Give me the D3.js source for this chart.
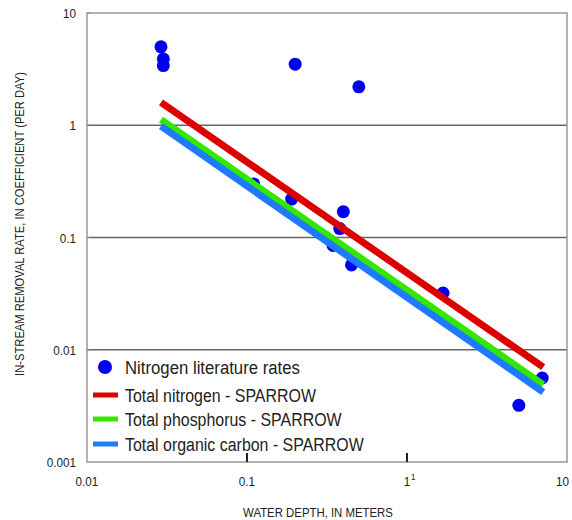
<!DOCTYPE html>
<html>
<head>
<meta charset="utf-8">
<script src="https://cdn.jsdelivr.net/npm/d3@7"></script>
<style>
  body { margin: 0; background: #fff; }
  text { font-family: "Liberation Sans", Arial, sans-serif; fill: #222; }
</style>
</head>
<body>
<svg id="chart" width="572" height="520"></svg>
<script>
// ---- data ----
const litDepths = [0.029, 0.030, 0.030, 0.20, 0.50, 0.11, 0.19, 0.40, 0.38, 0.345, 0.45, 1.68, 7.0, 5.0];
const litRates  = [5.0, 3.9, 3.4, 3.5, 2.2, 0.30, 0.22, 0.17, 0.12, 0.085, 0.057, 0.032, 0.0056, 0.0032];

const lineDepths = [0.029, 7.1];
const tnRates  = [1.6, 0.007];
const tpRates  = [1.12, 0.0049];
const tocRates = [0.98, 0.0042];

const xTicks = [0.01, 0.1, 1, 10];
const xTickLabels = ["0.01", "0.1", "1", "10"];
const yTicks = [0.001, 0.01, 0.1, 1, 10];
const yTickLabels = ["0.001", "0.01", "0.1", "1", "10"];
const gridValues = [0.01, 0.1, 1];

const legendLabels = ["Nitrogen literature rates", "Total nitrogen - SPARROW", "Total phosphorus - SPARROW", "Total organic carbon - SPARROW"];
const colors = { dot: "#0000ee", tn: "#dd0000", tp: "#33e800", toc: "#1e7bff" };

// ---- layout ----
const svg = d3.select("#chart");
const L = 87, R = 567, T = 13, B = 462;
const x = d3.scaleLog().domain([0.01, 10]).range([L, R]);
const y = d3.scaleLog().domain([0.001, 10]).range([B, T]);

// condensed-face emulation: squeeze natural width by a ratio
function condense(sel, fs, ratio) {
  sel.attr("font-size", fs).each(function () {
    const w = this.getComputedTextLength();
    d3.select(this).attr("textLength", w * ratio).attr("lengthAdjust", "spacingAndGlyphs");
  });
}

// gridlines
svg.append("g").selectAll("line").data(gridValues).join("line")
  .attr("x1", L).attr("x2", R)
  .attr("y1", d => y(d)).attr("y2", d => y(d))
  .attr("stroke", "#666").attr("stroke-width", 1.4);

// frame
svg.append("rect").attr("x", L).attr("y", T).attr("width", R - L).attr("height", B - T)
  .attr("fill", "none").attr("stroke", "#999").attr("stroke-width", 1.5);

// left small inner ticks
svg.append("g").selectAll("line").data(yTicks.slice(1)).join("line")
  .attr("x1", L).attr("x2", L + 3)
  .attr("y1", d => y(d)).attr("y2", d => y(d))
  .attr("stroke", "#888").attr("stroke-width", 1);

// bottom inner ticks
svg.append("g").selectAll("line").data([0.1, 1]).join("line")
  .attr("x1", d => x(d)).attr("x2", d => x(d))
  .attr("y1", B).attr("y2", B - 9)
  .attr("stroke", "#222").attr("stroke-width", 2);

// x tick labels
svg.append("g").selectAll("text").data(xTicks).join("text")
  .attr("x", d => d === 10 ? 569 : x(d)).attr("y", 486)
  .attr("text-anchor", d => d === 10 ? "end" : "middle")
  .text((d, i) => xTickLabels[i])
  .call(condense, 13, 0.9);
// stray superscript next to "1"
svg.append("text").attr("x", x(1) + 4).attr("y", 480).text("1").call(condense, 9, 0.9);

// y tick labels
svg.append("g").selectAll("text").data(yTicks).join("text")
  .attr("x", 76).attr("y", d => y(d) + 5)
  .attr("text-anchor", "end")
  .text((d, i) => yTickLabels[i])
  .call(condense, 13, 0.9);

// axis titles
svg.append("text").attr("x", 318).attr("y", 517).attr("text-anchor", "middle")
  .text("WATER DEPTH, IN METERS").call(condense, 12.5, 0.91);
svg.append("text").attr("transform", "translate(24,224) rotate(-90)").attr("text-anchor", "middle")
  .text("IN-STREAM REMOVAL RATE, IN COEFFICIENT (PER DAY)").call(condense, 13, 0.86);

// literature dots
svg.append("g").selectAll("circle").data(litDepths).join("circle")
  .attr("cx", d => x(d)).attr("cy", (d, i) => y(litRates[i]))
  .attr("r", 6.5).attr("fill", colors.dot);

// SPARROW lines
const line = d3.line().x(d => x(d[0])).y(d => y(d[1]));
[[tnRates, colors.tn], [tpRates, colors.tp], [tocRates, colors.toc]].forEach(([rates, c]) => {
  svg.append("path").datum(lineDepths.map((d, i) => [d, rates[i]]))
    .attr("d", line).attr("fill", "none").attr("stroke", c).attr("stroke-width", 7);
});

// legend
const lg = svg.append("g");
const rowY = [367, 395, 419, 444];
lg.append("circle").attr("cx", 105).attr("cy", rowY[0]).attr("r", 7).attr("fill", colors.dot);
[colors.tn, colors.tp, colors.toc].forEach((c, i) => {
  lg.append("line").attr("x1", 93).attr("x2", 118).attr("y1", rowY[i + 1]).attr("y2", rowY[i + 1])
    .attr("stroke", c).attr("stroke-width", 5);
});
lg.selectAll("text").data(legendLabels).join("text")
  .attr("x", 125).attr("y", (d, i) => rowY[i] + 6.5)
  .text(d => d)
  .each(function (d, i) { d3.select(this).call(condense, 18, i === 0 ? 0.93 : 0.885); });
</script>
</body>
</html>
